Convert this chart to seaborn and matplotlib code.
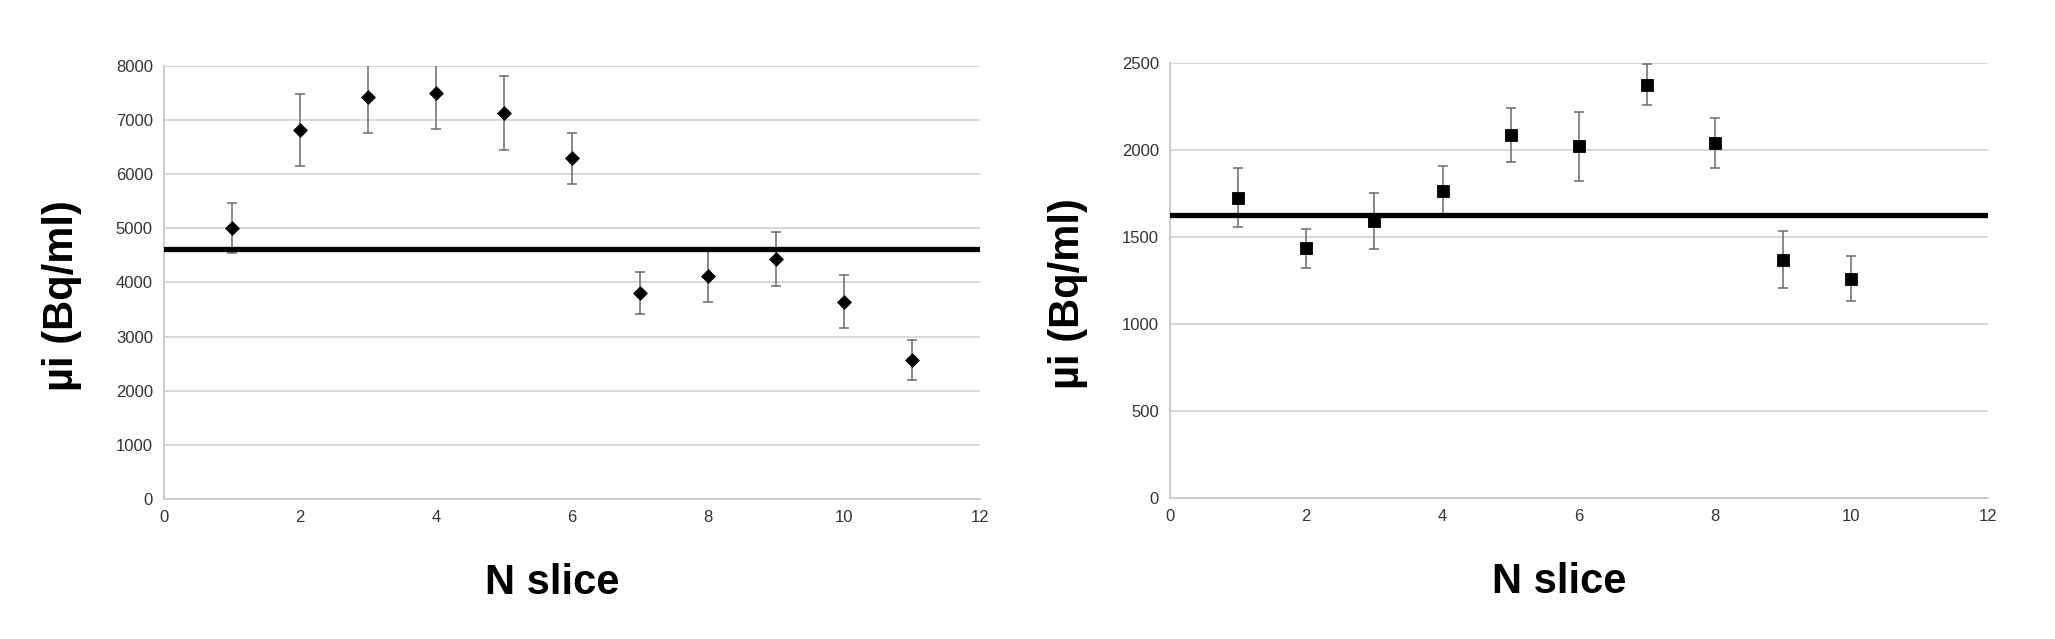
import numpy as np
import matplotlib
matplotlib.use("Agg")
import matplotlib.pyplot as plt
import seaborn as sns
import pandas as pd

# left panel
slice_a = [1, 2, 3, 4, 5, 6, 7, 8, 9, 10, 11]
mu_a = [5010, 6815, 7430, 7495, 7125, 6290, 3800, 4125, 4430, 3645, 2565]
err_a = [460, 660, 670, 665, 680, 475, 390, 490, 495, 490, 365]
mean_a = 4615

# right panel
slice_b = [1, 2, 3, 4, 5, 6, 7, 8, 9, 10]
mu_b = [1725, 1435, 1590, 1765, 2085, 2020, 2375, 2040, 1370, 1260]
err_b = [170, 112, 160, 145, 153, 198, 120, 145, 163, 128]
mean_b = 1625

sns.set_style("white")
plt.rcParams['font.family'] = ['Liberation Sans', 'DejaVu Sans']

fig = plt.figure(figsize=(20.55, 6.39), dpi=100)
ax1 = fig.add_axes([0.0798, 0.219, 0.397, 0.678])
ax2 = fig.add_axes([0.5693, 0.2207, 0.398, 0.681])

panels = [
    (ax1, slice_a, mu_a, err_a, mean_a, 'D', 7.0, 8000, 1000),
    (ax2, slice_b, mu_b, err_b, mean_b, 's', 8.4, 2500, 500),
]

for ax, xs, ys, es, m, mk, ms, ymax, step in panels:
    df = pd.DataFrame({'x': xs, 'y': ys})
    ax.errorbar(xs, ys, yerr=es, fmt='none', ecolor='#6a6a6a',
                elinewidth=1.1, capsize=3.3, capthick=1.1, zorder=2)
    ax.axhline(m, color='black', linewidth=3.8, zorder=3)
    sns.scatterplot(data=df, x='x', y='y', marker=mk, color='black',
                    s=ms ** 2, edgecolor='black', linewidth=0.6, ax=ax, zorder=4)

    ax.set_xlim(0, 12)
    ax.set_ylim(0, ymax)
    ax.set_xticks(np.arange(0, 13, 2))
    ax.set_yticks(np.arange(0, ymax + 1, step))
    ax.grid(axis='y', color='#d6d6d6', linewidth=1.3)
    ax.set_axisbelow(True)
    for side in ['top', 'right']:
        ax.spines[side].set_visible(False)
    for side in ['left', 'bottom']:
        ax.spines[side].set_color('#c8c8c8')
        ax.spines[side].set_linewidth(1.3)
    ax.tick_params(axis='both', direction='out', length=5, width=1,
                   color='#c8c8c8', labelsize=12, labelcolor='#333333', pad=3)

    ax.set_xlabel('N slice', fontsize=30, fontweight='bold', color='black')
    ax.set_ylabel('µi (Bq/ml)', fontsize=30, fontweight='bold', color='black')
    ax.xaxis.set_label_coords(0.476, -0.148)
    ax.yaxis.set_label_coords(-0.100, 0.47)

fig.savefig('out.png', dpi=100)
